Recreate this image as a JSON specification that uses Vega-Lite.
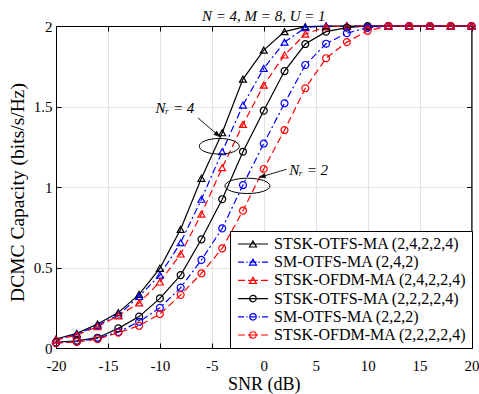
{
  "$schema": "https://vega.github.io/schema/vega-lite/v6.json",
  "width": 415.5,
  "height": 322,
  "autosize": {"type": "none"},
  "padding": {"left": 56, "top": 26, "right": 7.5, "bottom": 46},
  "background": "white",
  "title": {"text": "N = 4, M = 8, U = 1", "font": "Liberation Serif", "fontSize": 15, "fontStyle": "italic", "fontWeight": "normal", "offset": -5, "anchor": "middle", "color": "black"},
  "config": {"view": {"stroke": "black", "strokeWidth": 1}},
  "datasets": {
    "curves": [
      {"k":"A","snr":-20,"cap":0.056},{"k":"A","snr":-18,"cap":0.091},{"k":"A","snr":-16,"cap":0.149},{"k":"A","snr":-14,"cap":0.22},{"k":"A","snr":-12,"cap":0.333},{"k":"A","snr":-10,"cap":0.495},{"k":"A","snr":-8,"cap":0.737},{"k":"A","snr":-6,"cap":1.054},{"k":"A","snr":-4,"cap":1.337},{"k":"A","snr":-2,"cap":1.67},{"k":"A","snr":0,"cap":1.85},{"k":"A","snr":2,"cap":1.965},{"k":"A","snr":4,"cap":1.996},{"k":"A","snr":6,"cap":2},{"k":"A","snr":8,"cap":2},{"k":"A","snr":10,"cap":2},{"k":"A","snr":12,"cap":2},{"k":"A","snr":14,"cap":2},{"k":"A","snr":16,"cap":2},{"k":"A","snr":18,"cap":2},{"k":"A","snr":20,"cap":2},
      {"k":"B","snr":-20,"cap":0.05},{"k":"B","snr":-18,"cap":0.085},{"k":"B","snr":-16,"cap":0.14},{"k":"B","snr":-14,"cap":0.205},{"k":"B","snr":-12,"cap":0.32},{"k":"B","snr":-10,"cap":0.453},{"k":"B","snr":-8,"cap":0.654},{"k":"B","snr":-6,"cap":0.924},{"k":"B","snr":-4,"cap":1.219},{"k":"B","snr":-2,"cap":1.509},{"k":"B","snr":0,"cap":1.737},{"k":"B","snr":2,"cap":1.9},{"k":"B","snr":4,"cap":1.99},{"k":"B","snr":6,"cap":2},{"k":"B","snr":8,"cap":2},{"k":"B","snr":10,"cap":2},{"k":"B","snr":12,"cap":2},{"k":"B","snr":14,"cap":2},{"k":"B","snr":16,"cap":2},{"k":"B","snr":18,"cap":2},{"k":"B","snr":20,"cap":2},
      {"k":"C","snr":-20,"cap":0.05},{"k":"C","snr":-18,"cap":0.08},{"k":"C","snr":-16,"cap":0.133},{"k":"C","snr":-14,"cap":0.2},{"k":"C","snr":-12,"cap":0.28},{"k":"C","snr":-10,"cap":0.41},{"k":"C","snr":-8,"cap":0.584},{"k":"C","snr":-6,"cap":0.832},{"k":"C","snr":-4,"cap":1.12},{"k":"C","snr":-2,"cap":1.389},{"k":"C","snr":0,"cap":1.633},{"k":"C","snr":2,"cap":1.82},{"k":"C","snr":4,"cap":1.95},{"k":"C","snr":6,"cap":1.995},{"k":"C","snr":8,"cap":2},{"k":"C","snr":10,"cap":2},{"k":"C","snr":12,"cap":2},{"k":"C","snr":14,"cap":2},{"k":"C","snr":16,"cap":2},{"k":"C","snr":18,"cap":2},{"k":"C","snr":20,"cap":2},
      {"k":"D","snr":-20,"cap":0.035},{"k":"D","snr":-18,"cap":0.045},{"k":"D","snr":-16,"cap":0.064},{"k":"D","snr":-14,"cap":0.122},{"k":"D","snr":-12,"cap":0.195},{"k":"D","snr":-10,"cap":0.308},{"k":"D","snr":-8,"cap":0.453},{"k":"D","snr":-6,"cap":0.675},{"k":"D","snr":-4,"cap":0.924},{"k":"D","snr":-2,"cap":1.219},{"k":"D","snr":0,"cap":1.474},{"k":"D","snr":2,"cap":1.72},{"k":"D","snr":4,"cap":1.888},{"k":"D","snr":6,"cap":1.965},{"k":"D","snr":8,"cap":1.99},{"k":"D","snr":10,"cap":2},{"k":"D","snr":12,"cap":2},{"k":"D","snr":14,"cap":2},{"k":"D","snr":16,"cap":2},{"k":"D","snr":18,"cap":2},{"k":"D","snr":20,"cap":2},
      {"k":"E","snr":-20,"cap":0.032},{"k":"E","snr":-18,"cap":0.04},{"k":"E","snr":-16,"cap":0.06},{"k":"E","snr":-14,"cap":0.1},{"k":"E","snr":-12,"cap":0.163},{"k":"E","snr":-10,"cap":0.25},{"k":"E","snr":-8,"cap":0.375},{"k":"E","snr":-6,"cap":0.547},{"k":"E","snr":-4,"cap":0.743},{"k":"E","snr":-2,"cap":1.012},{"k":"E","snr":0,"cap":1.27},{"k":"E","snr":2,"cap":1.52},{"k":"E","snr":4,"cap":1.758},{"k":"E","snr":6,"cap":1.89},{"k":"E","snr":8,"cap":1.955},{"k":"E","snr":10,"cap":1.99},{"k":"E","snr":12,"cap":2},{"k":"E","snr":14,"cap":2},{"k":"E","snr":16,"cap":2},{"k":"E","snr":18,"cap":2},{"k":"E","snr":20,"cap":2},
      {"k":"F","snr":-20,"cap":0.03},{"k":"F","snr":-18,"cap":0.038},{"k":"F","snr":-16,"cap":0.055},{"k":"F","snr":-14,"cap":0.095},{"k":"F","snr":-12,"cap":0.138},{"k":"F","snr":-10,"cap":0.211},{"k":"F","snr":-8,"cap":0.33},{"k":"F","snr":-6,"cap":0.464},{"k":"F","snr":-4,"cap":0.619},{"k":"F","snr":-2,"cap":0.853},{"k":"F","snr":0,"cap":1.112},{"k":"F","snr":2,"cap":1.354},{"k":"F","snr":4,"cap":1.613},{"k":"F","snr":6,"cap":1.8},{"k":"F","snr":8,"cap":1.9},{"k":"F","snr":10,"cap":1.97},{"k":"F","snr":12,"cap":2},{"k":"F","snr":14,"cap":2},{"k":"F","snr":16,"cap":2},{"k":"F","snr":18,"cap":2},{"k":"F","snr":20,"cap":2}
    ]
  },
  "layer": [
    {
      "data": {"name": "curves"},
      "transform": [{"filter": {"field": "k", "oneOf": ["A", "D"]}}],
      "mark": {"type": "line", "strokeWidth": 1.2},
      "encoding": {
        "x": {"field": "snr", "type": "quantitative", "scale": {"domain": [-20, 20], "nice": false},
          "axis": {"orient": "bottom", "values": [-20,-15,-10,-5,0,5,10,15,20], "labelExpr": "'' + datum.value", "title": "SNR (dB)", "grid": true, "gridColor": "#e2e2e2", "tickSize": -5, "tickColor": "black", "domainColor": "black", "labelPadding": 15, "labelFont": "Liberation Serif", "labelFontSize": 15, "labelColor": "black", "labelFlush": false, "titleFont": "Liberation Serif", "titleFontSize": 18, "titleFontWeight": "normal", "titleColor": "black", "titlePadding": 2}},
        "y": {"field": "cap", "type": "quantitative", "scale": {"domain": [0, 2], "nice": false},
          "axis": {"orient": "left", "values": [0,0.5,1,1.5,2], "labelExpr": "'' + datum.value", "title": "DCMC Capacity (bits/s/Hz)", "grid": true, "gridColor": "#e2e2e2", "tickSize": -5, "tickColor": "black", "domainColor": "black", "labelPadding": 9, "labelFont": "Liberation Serif", "labelFontSize": 15, "labelColor": "black", "labelFlush": false, "titleFont": "Liberation Serif", "titleFontSize": 19.5, "titleFontWeight": "normal", "titleColor": "black", "titlePadding": 6, "titleY": 166}},
        "color": {"field": "k", "type": "nominal",
          "scale": {"domain": ["A","B","C","D","E","F"], "range": ["#000000","#0000ff","#ff0000","#000000","#0000ff","#ff0000"]},
          "legend": {"title": null, "orient": "bottom-right", "offset": 0, "fillColor": "white", "strokeColor": "black", "padding": 5, "labelFont": "Liberation Serif", "labelFontSize": 16, "labelColor": "black", "labelOffset": 23, "rowPadding": 2.2, "symbolSize": 100, "labelLimit": 0,
            "labelExpr": "datum.value=='A' ? 'STSK-OTFS-MA (2,4,2,2,4)' : datum.value=='B' ? 'SM-OTFS-MA (2,4,2)' : datum.value=='C' ? 'STSK-OFDM-MA (2,4,2,2,4)' : datum.value=='D' ? 'STSK-OTFS-MA (2,2,2,2,4)' : datum.value=='E' ? 'SM-OTFS-MA (2,2,2)' : 'STSK-OFDM-MA (2,2,2,2,4)'",
            "encode": {"symbols": {"update": {
              "shape": {"signal": "datum.value=='A' ? 'M-1,0L5,0M2,-0.6L2.7,0.6L1.3,0.6Z' : datum.value=='B' ? 'M-1,0L0.2,0M0.65,0L0.9,0M1.3,0L2.7,0M3.1,0L3.35,0M3.8,0L5,0M2,-0.6L2.7,0.6L1.3,0.6Z' : datum.value=='C' ? 'M-1,0L0.4,0M1,0L3,0M3.6,0L5,0M2,-0.6L2.7,0.6L1.3,0.6Z' : datum.value=='D' ? 'M-1,0L5,0M1.35,0A0.65,0.65,0,1,1,2.65,0A0.65,0.65,0,1,1,1.35,0Z' : datum.value=='E' ? 'M-1,0L0.2,0M0.65,0L0.9,0M1.3,0L2.7,0M3.1,0L3.35,0M3.8,0L5,0M1.35,0A0.65,0.65,0,1,1,2.65,0A0.65,0.65,0,1,1,1.35,0Z' : 'M-1,0L0.4,0M1,0L3,0M3.6,0L5,0M1.35,0A0.65,0.65,0,1,1,2.65,0A0.65,0.65,0,1,1,1.35,0Z'"},
              "fill": {"value": "transparent"},
              "strokeWidth": {"value": 1.2},
              "opacity": {"value": 1}
            }}}
          }}
      }
    },
    {
      "data": {"name": "curves"},
      "transform": [{"filter": {"field": "k", "oneOf": ["B", "E"]}}],
      "mark": {"type": "line", "strokeWidth": 1.2, "strokeDash": [7, 3, 2, 3]},
      "encoding": {
        "x": {"field": "snr", "type": "quantitative", "axis": null},
        "y": {"field": "cap", "type": "quantitative", "axis": null},
        "color": {"field": "k", "type": "nominal", "legend": null}
      }
    },
    {
      "data": {"name": "curves"},
      "transform": [{"filter": {"field": "k", "oneOf": ["C", "F"]}}],
      "mark": {"type": "line", "strokeWidth": 1.2, "strokeDash": [7, 4]},
      "encoding": {
        "x": {"field": "snr", "type": "quantitative", "axis": null},
        "y": {"field": "cap", "type": "quantitative", "axis": null},
        "color": {"field": "k", "type": "nominal", "legend": null}
      }
    },
    {
      "data": {"name": "curves"},
      "transform": [{"filter": {"field": "k", "oneOf": ["A", "B", "C"]}}],
      "mark": {"type": "point", "shape": "triangle-up", "filled": false, "strokeWidth": 1.2, "size": 48, "opacity": 1},
      "encoding": {
        "x": {"field": "snr", "type": "quantitative",
          "axis": {"orient": "top", "values": [-20,-15,-10,-5,0,5,10,15,20], "labels": false, "title": null, "grid": false, "tickSize": -5, "tickColor": "black", "domainColor": "black"}},
        "y": {"field": "cap", "type": "quantitative",
          "axis": {"orient": "right", "values": [0,0.5,1,1.5,2], "labels": false, "title": null, "grid": false, "tickSize": -5, "tickColor": "black", "domainColor": "black"}},
        "color": {"field": "k", "type": "nominal", "legend": null}
      }
    },
    {
      "data": {"name": "curves"},
      "transform": [{"filter": {"field": "k", "oneOf": ["D", "E", "F"]}}],
      "mark": {"type": "point", "shape": "circle", "filled": false, "strokeWidth": 1.2, "size": 48, "opacity": 1},
      "encoding": {
        "x": {"field": "snr", "type": "quantitative", "axis": null},
        "y": {"field": "cap", "type": "quantitative", "axis": null},
        "color": {"field": "k", "type": "nominal", "legend": null}
      }
    },
    {
      "data": {"values": [{"x": -4.28, "y": 1.253}]},
      "mark": {"type": "point", "shape": "M-1,0A1,0.39,0,1,1,1,0A1,0.39,0,1,1,-1,0Z", "size": 1600, "filled": false, "stroke": "black", "strokeWidth": 1, "opacity": 1},
      "encoding": {"x": {"field": "x", "type": "quantitative", "axis": null}, "y": {"field": "y", "type": "quantitative", "axis": null}}
    },
    {
      "data": {"values": [{"x": -1.57, "y": 1.007}]},
      "mark": {"type": "point", "shape": "M-1,0A1,0.34,0,1,1,1,0A1,0.34,0,1,1,-1,0Z", "size": 2025, "filled": false, "stroke": "black", "strokeWidth": 1, "opacity": 1},
      "encoding": {"x": {"field": "x", "type": "quantitative", "axis": null}, "y": {"field": "y", "type": "quantitative", "axis": null}}
    },
    {
      "data": {"values": [{"x": -6.33, "y": 1.429, "x2": -4.3, "y2": 1.317}, {"x": 2.2, "y": 1.11, "x2": -0.35, "y2": 1.062}]},
      "mark": {"type": "rule", "stroke": "black", "strokeWidth": 0.9},
      "encoding": {"x": {"field": "x", "type": "quantitative", "axis": null}, "y": {"field": "y", "type": "quantitative", "axis": null}, "x2": {"field": "x2"}, "y2": {"field": "y2"}}
    },
    {
      "data": {"values": [{"x": -4.22, "y": 1.313}]},
      "mark": {"type": "point", "shape": "M0,0L-2,-0.75L-2,0.75Z", "size": 36, "filled": true, "fill": "black", "stroke": "black", "strokeWidth": 0.5, "angle": 38.7, "opacity": 1},
      "encoding": {"x": {"field": "x", "type": "quantitative", "axis": null}, "y": {"field": "y", "type": "quantitative", "axis": null}}
    },
    {
      "data": {"values": [{"x": -0.42, "y": 1.06}]},
      "mark": {"type": "point", "shape": "M0,0L-2,-0.75L-2,0.75Z", "size": 36, "filled": true, "fill": "black", "stroke": "black", "strokeWidth": 0.5, "angle": 163.7, "opacity": 1},
      "encoding": {"x": {"field": "x", "type": "quantitative", "axis": null}, "y": {"field": "y", "type": "quantitative", "axis": null}}
    },
    {
      "data": {"values": [{"x": -8.55, "y": 1.49, "t": "Nᵣ = 4"}]},
      "mark": {"type": "text", "font": "Liberation Serif", "fontSize": 15, "fontStyle": "italic", "align": "center", "baseline": "middle", "color": "black"},
      "encoding": {"x": {"field": "x", "type": "quantitative", "axis": null}, "y": {"field": "y", "type": "quantitative", "axis": null}, "text": {"field": "t"}}
    },
    {
      "data": {"values": [{"x": 2.45, "y": 1.106, "t": "Nᵣ = 2"}]},
      "mark": {"type": "text", "font": "Liberation Serif", "fontSize": 15, "fontStyle": "italic", "align": "left", "baseline": "middle", "color": "black"},
      "encoding": {"x": {"field": "x", "type": "quantitative", "axis": null}, "y": {"field": "y", "type": "quantitative", "axis": null}, "text": {"field": "t"}}
    }
  ],
  "resolve": {"axis": {"x": "independent", "y": "independent"}}
}
